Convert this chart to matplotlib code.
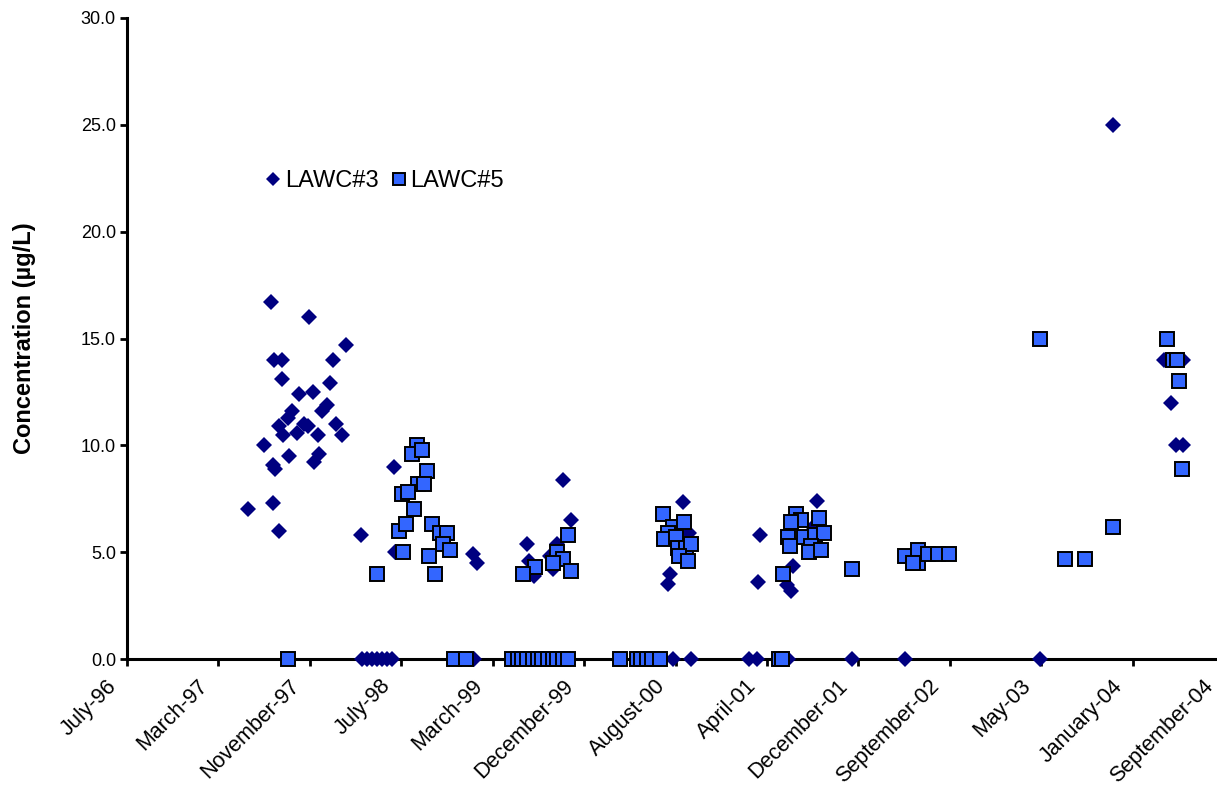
import matplotlib.pyplot as plt
import matplotlib.ticker as mticker
import matplotlib.transforms as mtransforms
import pandas as pd

# sample dates are Excel serial numbers, concentrations in ug/L
LAWC3_DATE = [
    35581, 35625, 35644, 35652, 35674, 35814, 35674, 35806, 35721, 35759,
    35748, 35850, 35798, 35784, 35702, 35691, 35666, 35677, 35715, 35735,
    35746, 35773, 35822, 35839, 35694, 35776, 35762, 35650, 35655, 35650,
    35666, 35891,
    35893, 35907, 35921, 35935, 35948, 35962, 35976,
    35981, 35984, 36195, 36208, 36156, 36184, 36200,
    36441, 36463, 36345, 36348, 36362, 36427, 36408, 36416,
    36312, 36340, 36367, 36395, 36422, 36449,
    36770, 36786, 36734, 36729, 36742, 36792,
    36980, 36975, 37136, 37071, 37054, 37065, 37125,
    36950, 36972, 37057, 37232, 37377,
    37747, 37947, 38087, 38139, 38106, 38119, 38139,
]
LAWC3_CONC = [
    7.0, 10.0, 16.7, 14.0, 14.0, 14.0, 13.1, 12.9, 12.4, 12.5,
    16.0, 14.7, 11.9, 11.6, 11.6, 11.3, 10.9, 10.5, 10.6, 11.0,
    10.9, 10.5, 11.0, 10.5, 9.5, 9.6, 9.2, 9.1, 8.9, 7.3,
    6.0, 5.8,
    0.0, 0.0, 0.0, 0.0, 0.0, 0.0, 0.0,
    9.0, 5.0, 4.9, 4.5, 0.0, 0.0, 0.0,
    8.4, 6.5, 5.4, 4.6, 3.9, 5.4, 4.8, 4.2,
    0.0, 0.0, 0.0, 0.0, 0.0, 0.0,
    7.35, 5.9, 4.0, 3.5, 0.0, 0.0,
    5.8, 3.6, 7.4, 4.35, 3.45, 3.2, 6.2,
    0.0, 0.0, 0.0, 0.0, 0.0,
    0.0, 25.0, 14.0, 14.0, 12.0, 10.0, 10.0,
]

LAWC5_DATE = [
    35691,
    36044, 36030, 36058, 36071, 36047, 36063, 36003, 36019, 36036, 35995,
    36014, 36085, 36107, 36126, 36115, 36134, 36006, 36077, 35935, 36093,
    36143, 36178,
    36455, 36427, 36441, 36416, 36367, 36334, 36463,
    36304, 36318, 36331, 36345, 36359, 36373, 36386, 36400, 36414, 36427,
    36441, 36455, 36597,
    36715, 36742, 36772, 36729, 36718, 36750, 36756, 36778, 36792, 36759,
    36783, 36644, 36657, 36671, 36685, 36707,
    37079, 37093, 37142, 37065, 37057, 37063, 37101, 37131, 37156, 37120,
    37115, 37147, 37043, 37232, 37032, 37040,
    37377, 37413, 37413, 37399, 37440, 37468, 37498,
    37747, 37947, 37816, 37870, 38095, 38111, 38122, 38128, 38136,
]
LAWC5_CONC = [
    0.0,
    10.0, 9.6, 9.8, 8.8, 8.2, 8.2, 7.7, 7.8, 7.0, 6.0,
    6.3, 6.3, 5.9, 5.9, 5.4, 5.1, 5.0, 4.8, 4.0, 4.0,
    0.0, 0.0,
    5.8, 5.0, 4.7, 4.5, 4.3, 4.0, 4.1,
    0.0, 0.0, 0.0, 0.0, 0.0, 0.0, 0.0, 0.0, 0.0, 0.0,
    0.0, 0.0, 0.0,
    6.8, 6.2, 6.4, 5.9, 5.6, 5.7, 5.2, 5.2, 5.4, 4.8,
    4.6, 0.0, 0.0, 0.0, 0.0, 0.0,
    6.8, 6.5, 6.6, 6.4, 5.7, 5.3, 5.7, 5.8, 5.9, 5.3,
    5.0, 5.1, 4.0, 4.2, 0.0, 0.0,
    4.8, 5.1, 4.5, 4.5, 4.9, 4.9, 4.9,
    15.0, 6.2, 4.7, 4.7, 15.0, 14.0, 14.0, 13.0, 8.9,
]

X_MIN, X_MAX, X_STEP = 35250, 38250, 250


def to_date(serial):
    return pd.to_datetime(pd.Series(serial), unit="D", origin="1899-12-30")


def main() -> None:
    plt.rcParams["font.family"] = ["Liberation Sans", "DejaVu Sans"]
    fig = plt.figure(figsize=(12.17, 7.96), dpi=100)
    ax = fig.add_axes([127 / 1217, 137 / 796, 1097 / 1217, 641 / 796])

    ax.plot(to_date(LAWC3_DATE), LAWC3_CONC, linestyle="none", marker="D",
            markersize=8.5, color="#000080", markeredgewidth=0, label="LAWC#3",
            clip_on=False, zorder=3)
    ax.plot(to_date(LAWC5_DATE), LAWC5_CONC, linestyle="none", marker="s",
            markersize=9.5, markerfacecolor="#3366FF", markeredgecolor="black",
            markeredgewidth=1.4, label="LAWC#5", clip_on=False, zorder=4)

    ticks = to_date(list(range(X_MIN, X_MAX + 1, X_STEP)))
    ax.set_xlim(ticks.iloc[0], ticks.iloc[-1])
    ax.set_xticks(ticks)
    # bottom-anchored labels sit up and to the left of the tick, as in Excel
    ax.set_xticklabels([d.strftime("%B-%y") for d in ticks], rotation=45,
                       ha="right", va="bottom", rotation_mode="anchor",
                       fontsize=15.5)

    ax.set_ylim(0, 30)
    ax.yaxis.set_major_locator(mticker.MultipleLocator(5))
    ax.yaxis.set_major_formatter(mticker.FormatStrFormatter("%.1f"))
    ax.tick_params(axis="y", labelsize=13, length=5, width=2, pad=3)
    ax.tick_params(axis="x", length=5, width=2, pad=19)
    # nudge the rotated labels a few pixels left (after tick_params, which resets transforms)
    shift = mtransforms.ScaledTranslation(-6 / 100, 2 / 100, fig.dpi_scale_trans)
    for lbl in ax.get_xticklabels():
        lbl.set_transform(lbl.get_transform() + shift)

    ax.set_ylabel("Concentration (\u00b5g/L)", fontsize=17, fontweight="bold",
                  labelpad=32)

    for side in ("top", "right"):
        ax.spines[side].set_visible(False)
    for side in ("left", "bottom"):
        ax.spines[side].set_linewidth(2.2)

    ax.legend(loc="center left", bbox_to_anchor=(0.115, 0.746), ncol=2,
              frameon=False, fontsize=17, handlelength=0.7, handletextpad=0.15,
              columnspacing=0.5, borderpad=0, markerscale=0.85)

    fig.savefig("out.png", dpi=100)


if __name__ == "__main__":
    main()
